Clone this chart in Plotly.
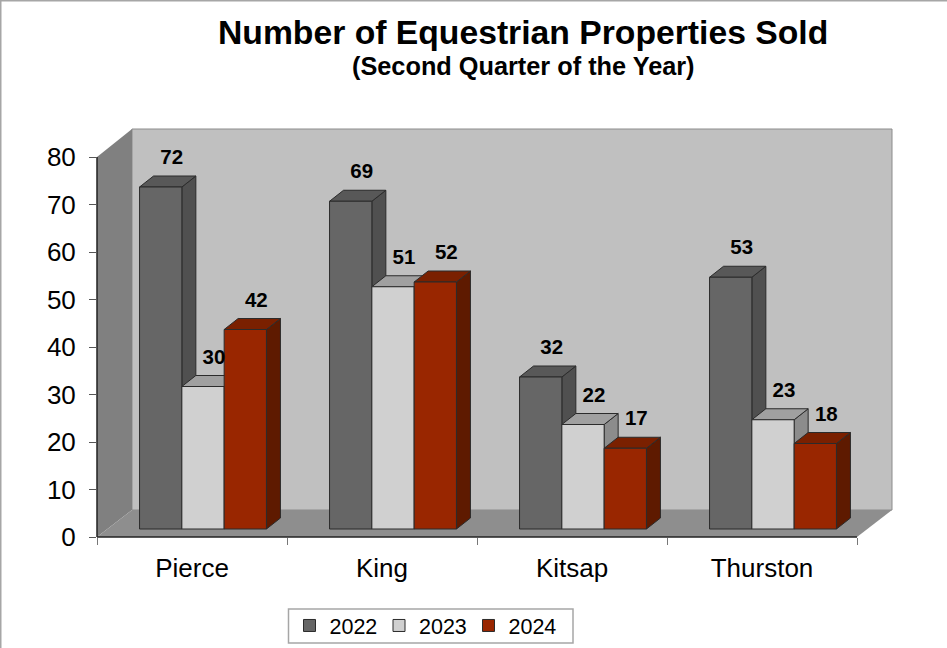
import plotly.graph_objects as go

categories = ["Pierce", "King", "Kitsap", "Thurston"]
years = ["2022", "2023", "2024"]
values_2022 = [72, 69, 32, 53]
values_2023 = [30, 51, 22, 23]
values_2024 = [42, 52, 17, 18]

W, H = 947, 648
L, R0, T0, B = 97, 857, 157, 537      # front frame of the 3-D box
DX, DY = 35, 27                       # depth of the box in px
R, T = R0 + DX + 1, T0 - DY - 2       # real plot area holds the whole box
PX_X = (R0 - L) / 4
PX_Y = (B - T0) / 80
px = lambda p: p / PX_X
py = lambda p: p / PX_Y

wall_dx, wall_dy = px(DX), py(DY)
base = py(8)
group_shift = px(11)
bw = px(42.3)
bar_dx, bar_dy = px(14), py(11)

series = [
    dict(name=years[0], vals=values_2022, front="#666666", side="#505050", top="#585858"),
    dict(name=years[1], vals=values_2023, front="#D0D0D0", side="#8C8C8C", top="#A0A0A0"),
    dict(name=years[2], vals=values_2024, front="#992600", side="#5E1A00", top="#7A2000"),
]
EDGE = "#2b2b2b"
x0, x1 = -0.5, 3.5


def poly(xs, ys, fill, z, line="rgba(0,0,0,0)", lw=0):
    return go.Scatter(x=xs + xs[:1], y=ys + ys[:1], mode="lines", fill="toself", fillcolor=fill,
                      line=dict(color=line, width=lw), hoverinfo="skip", showlegend=False,
                      zorder=z)


fig = go.Figure()
fig.add_trace(poly([x0 + wall_dx, x1 + wall_dx, x1 + wall_dx, x0 + wall_dx],
                   [wall_dy, wall_dy, 80 + py(28), 80 + py(28)], "#C0C0C0", 0, "#8c8c8c", 1))
fig.add_trace(poly([x0, x0 + wall_dx, x0 + wall_dx, x0], [0, wall_dy, 80 + py(28), 80], "#808080", 0))
fig.add_trace(poly([x0, x1, x1 + wall_dx, x0 + wall_dx], [0, 0, wall_dy, wall_dy], "#8E8E8E", 0))

for s_i, s in enumerate(series):
    xc = [i + group_shift + (s_i - 1) * bw for i in range(len(categories))]
    for xv, v in zip(xc, s["vals"]):
        a, b = xv - bw / 2, xv + bw / 2
        top = base + v
        fig.add_trace(poly([b, b + bar_dx, b + bar_dx, b], [base, base + bar_dy, top + bar_dy, top],
                           s["side"], 1 + 2 * s_i, EDGE, 1))
        fig.add_trace(poly([a, b, b + bar_dx, a + bar_dx], [top, top, top + bar_dy, top + bar_dy],
                           s["top"], 1 + 2 * s_i, EDGE, 1))
    fig.add_trace(go.Bar(x=xc, y=s["vals"], base=base, width=bw, name=s["name"],
                         marker=dict(color=s["front"], line=dict(color=EDGE, width=1)),
                         zorder=2 + 2 * s_i, hoverinfo="skip"))

for s_i, s in enumerate(series):
    xc = [i + group_shift + (s_i - 1) * bw + px(11) for i in range(len(categories))]
    fig.add_trace(go.Scatter(x=xc, y=[v + base + py(28) for v in s["vals"]], mode="text",
                             text=[str(v) for v in s["vals"]], textposition="middle center",
                             textfont=dict(family="Liberation Sans", size=20.5, color="black", weight="bold"),
                             hoverinfo="skip", showlegend=False, zorder=10))

pw, ph = R - L, B - T
fx = lambda p: (p - L) / pw
fy = lambda p: (B - p) / ph

fig.update_layout(
    width=W, height=H, margin=dict(l=L, r=W - R, t=T, b=H - B, autoexpand=False),
    paper_bgcolor="white", plot_bgcolor="rgba(0,0,0,0)",
    barmode="overlay", font=dict(family="Liberation Sans", color="black"),
    xaxis=dict(range=[x0, x0 + (R - L) / PX_X], tickmode="array", tickvals=[0, 1, 2, 3], ticktext=categories,
               tickfont=dict(size=26), ticks="", ticklen=0, showgrid=False, zeroline=False,
               showline=False, ticklabelstandoff=13,
               minor=dict(tickmode="array", tickvals=[-0.5, 0.5, 1.5, 2.5, 3.5], ticks="outside",
                          ticklen=7, tickcolor="#777777", tickwidth=1, showgrid=False)),
    yaxis=dict(range=[0, (B - T) / PX_Y], tickmode="array", tickvals=list(range(0, 81, 10)), tickfont=dict(size=26),
               ticks="outside", ticklen=7, tickcolor="#555555", tickwidth=1, showgrid=False, zeroline=False,
               showline=False, ticklabelstandoff=8),
    legend=dict(orientation="h", x=fx(424), xanchor="center", y=fy(625.5), yanchor="middle",
                font=dict(size=21.5), bgcolor="rgba(0,0,0,0)", borderwidth=0, traceorder="normal",
                entrywidth=44.5, entrywidthmode="pixels"),
    showlegend=True,
    shapes=[
        dict(type="line", xref="paper", yref="y", x0=0, x1=0, y0=0, y1=80, line=dict(color="#222222", width=1.5)),
        dict(type="line", xref="x", yref="paper", x0=x0, x1=x1, y0=0, y1=0, line=dict(color="#222222", width=1.5)),
        dict(type="rect", xref="paper", yref="paper", x0=fx(0), x1=fx(W + 3), y0=fy(H + 3), y1=fy(0),
             line=dict(color="#A6A6A6", width=3), fillcolor="rgba(0,0,0,0)", layer="below"),
        dict(type="rect", xref="paper", yref="paper", x0=fx(288.5), x1=fx(573), y0=fy(643), y1=fy(609),
             line=dict(color="#A6A6A6", width=1.5), fillcolor="white", layer="below"),
    ],
    annotations=[
        dict(text="<b>Number of Equestrian Properties Sold</b>", xref="paper", yref="paper",
             x=fx(523), y=fy(31.5), showarrow=False, font=dict(size=33.7), xanchor="center", yanchor="middle"),
        dict(text="<b>(Second Quarter of the Year)</b>", xref="paper", yref="paper",
             x=fx(523), y=fy(66), showarrow=False, font=dict(size=25.3), xanchor="center", yanchor="middle"),
    ],
)

fig.write_html("out.html", config=dict(displayModeBar=False),
               post_script="document.body.style.margin='0';document.body.style.overflow='hidden';")
